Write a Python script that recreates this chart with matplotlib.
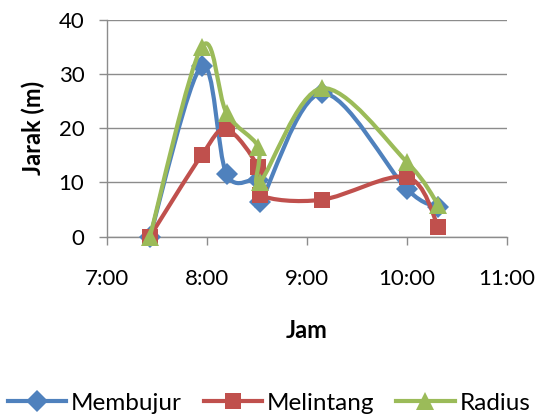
#!/usr/bin/env python3

import matplotlib

matplotlib.use("Agg")
import matplotlib.pyplot as plt
from matplotlib.lines import Line2D
from matplotlib.patches import PathPatch
from matplotlib.path import Path
from matplotlib.ticker import FuncFormatter


FIGURE_WIDTH_PX = 538
FIGURE_HEIGHT_PX = 418
FIGURE_DPI = 100

# jam pengukuran (h:mm) per titik, sama untuk semua seri
TIMES = ["7:26", "7:57", "8:12", "8:31", "8:32", "9:09", "10:00", "10:19"]

MEMBUJUR = [0.0, 31.5, 11.5, 10.5, 6.3, 26.5, 8.8, 5.5]
MELINTANG = [0.0, 15.0, 19.8, 12.8, 7.7, 6.8, 11.0, 1.8]
RADIUS = [0.0, 35.0, 22.8, 16.6, 10.1, 27.4, 13.8, 5.8]

SERIES_NAMES = ["Membujur", "Melintang", "Radius"]
SERIES_COLORS = ["#4F81BD", "#C0504D", "#9BBB59"]
SERIES_MARKERS = ["D", "s", "^"]
MARKER_SIZES = [11, 12, 13]

X_TICKS = [7, 8, 9, 10, 11]
Y_TICKS = [0, 10, 20, 30, 40]

FONT = ["Lato", "DejaVu Sans"]
TICK_SIZE = 16
LABEL_SIZE = 17
LEGEND_SIZE = 17.5
GRID_COLOR = "#8C8C8C"
LINE_WIDTH = 3.0


def to_hours(text: str) -> float:
    hour, minute = text.split(":")
    return int(hour) + int(minute) / 60


def smooth_path(xs: list[float], ys: list[float]) -> Path:
    # kurva halus ala Excel: bezier kubik dengan tangen catmull-rom
    points = list(zip(xs, ys))
    padded = [points[0]] + points + [points[-1]]
    vertices = [points[0]]
    codes = [Path.MOVETO]
    for i in range(1, len(padded) - 2):
        p0, p1, p2, p3 = padded[i - 1], padded[i], padded[i + 1], padded[i + 2]
        c1 = (p1[0] + (p2[0] - p0[0]) / 6, p1[1] + (p2[1] - p0[1]) / 6)
        c2 = (p2[0] - (p3[0] - p1[0]) / 6, p2[1] - (p3[1] - p1[1]) / 6)
        vertices += [c1, c2, p2]
        codes += [Path.CURVE4] * 3
    return Path(vertices, codes)


def main() -> int:
    plt.rcParams["font.family"] = FONT
    hours = [to_hours(t) for t in TIMES]

    fig = plt.figure(
        figsize=(FIGURE_WIDTH_PX / FIGURE_DPI, FIGURE_HEIGHT_PX / FIGURE_DPI),
        dpi=FIGURE_DPI,
    )
    ax = fig.add_axes([0.198, 0.434, 0.744, 0.518])

    handles = []
    for name, values, color, marker, size in zip(
        SERIES_NAMES,
        [MEMBUJUR, MELINTANG, RADIUS],
        SERIES_COLORS,
        SERIES_MARKERS,
        MARKER_SIZES,
    ):
        ax.add_patch(
            PathPatch(
                smooth_path(hours, values),
                fill=False,
                edgecolor=color,
                linewidth=LINE_WIDTH,
                capstyle="round",
                joinstyle="round",
                zorder=3,
            )
        )
        ax.plot(
            hours,
            values,
            linestyle="none",
            marker=marker,
            markersize=size,
            color=color,
            markeredgewidth=0,
            zorder=3,
            clip_on=False,
        )
        handles.append(
            Line2D(
                [],
                [],
                color=color,
                linewidth=LINE_WIDTH,
                marker=marker,
                markersize=size,
                markeredgewidth=0,
                label=name,
            )
        )

    ax.set_xlim(X_TICKS[0], X_TICKS[-1])
    ax.set_ylim(Y_TICKS[0], Y_TICKS[-1])
    ax.set_xticks(X_TICKS)
    ax.set_yticks(Y_TICKS)
    ax.xaxis.set_major_formatter(FuncFormatter(lambda v, _: f"{int(v)}:00"))
    ax.tick_params(
        axis="both",
        direction="out",
        length=6,
        width=1,
        color=GRID_COLOR,
        labelsize=TICK_SIZE,
    )
    ax.tick_params(axis="y", pad=10)
    ax.tick_params(axis="x", pad=17)
    ax.grid(axis="y", color=GRID_COLOR, linewidth=1)
    ax.set_axisbelow(True)
    for side in ["top", "right"]:
        ax.spines[side].set_visible(False)
    for side in ["left", "bottom"]:
        ax.spines[side].set_color(GRID_COLOR)
        ax.spines[side].set_linewidth(1)

    ax.set_xlabel("Jam", fontsize=LABEL_SIZE, fontweight="bold", labelpad=22)
    ax.set_ylabel("Jarak (m)", fontsize=LABEL_SIZE, fontweight="bold", labelpad=10)

    fig.legend(
        handles=handles,
        loc="center",
        bbox_to_anchor=(0.5, 0.035),
        ncol=3,
        frameon=False,
        fontsize=LEGEND_SIZE,
        handlelength=2.4,
        handletextpad=0.2,
        columnspacing=0.9,
    )

    fig.savefig("out.png", dpi=FIGURE_DPI)
    return 0


if __name__ == "__main__":
    raise SystemExit(main())
